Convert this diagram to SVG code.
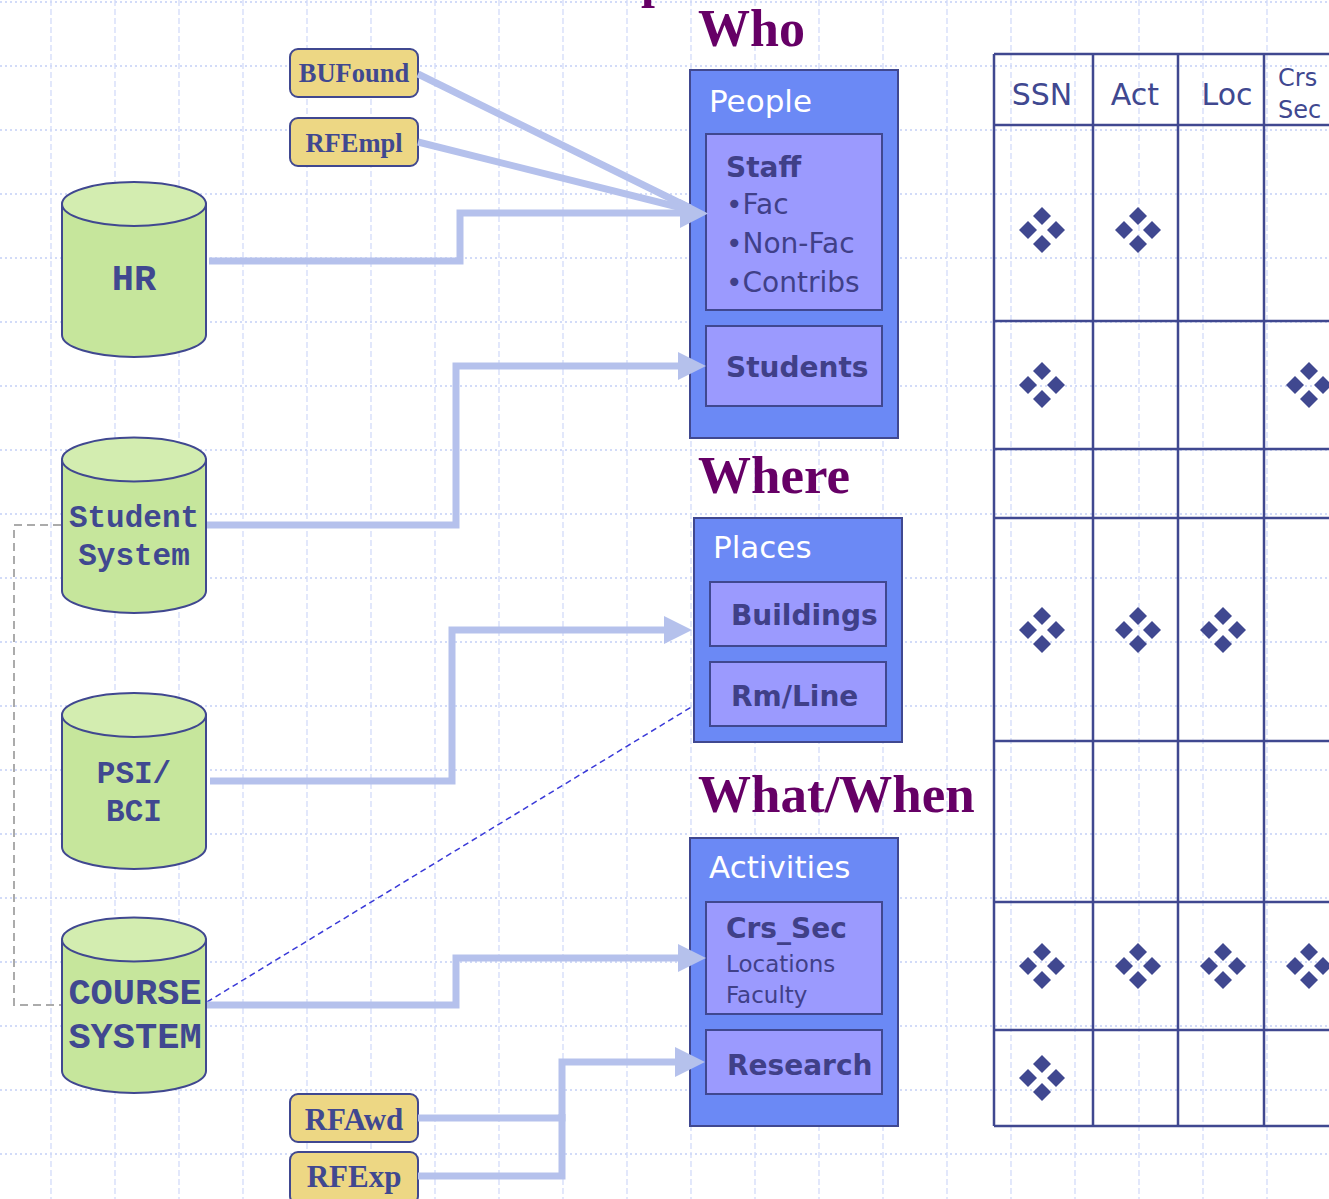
<svg xmlns="http://www.w3.org/2000/svg" xmlns:xlink="http://www.w3.org/1999/xlink" width="1329" height="1199" viewBox="0 0 1329 1199">
<style>
.gv{stroke:#d6def9;stroke-width:1.4;stroke-dasharray:6 3;fill:none}
.gh{stroke:#d2dbf8;stroke-width:2;stroke-dasharray:2 3;fill:none}
.tbl{stroke:#404890;stroke-width:2.5;fill:none}
.hdr{font-family:"DejaVu Sans",sans-serif;fill:#404890}
.cylb{fill:#c6e69c;stroke:#404890;stroke-width:2}
.cylt{fill:#d3edb0;stroke:#404890;stroke-width:2}
.ctx{font-family:"Liberation Mono","Courier New",monospace;font-weight:bold;fill:#404890;text-anchor:middle}
.ybox{fill:#edd784;stroke:#404890;stroke-width:2}
.ytx{font-family:"Liberation Serif","Times New Roman",serif;font-weight:bold;fill:#404890;text-anchor:middle}
.title{font-family:"Liberation Serif","Times New Roman",serif;font-weight:bold;fill:#660066}
.outer{fill:#6b89f5;stroke:#404890;stroke-width:2}
.inner{fill:#9b9afe;stroke:#404890;stroke-width:2}
.wtx{font-family:"DejaVu Sans",sans-serif;fill:#ffffff;font-size:31px}
.btx{font-family:"DejaVu Sans",sans-serif;fill:#404088;font-weight:bold;font-size:28px}
.ntx{font-family:"DejaVu Sans",sans-serif;fill:#404088}
.conn{stroke:#b5c1ec;stroke-width:7;fill:none}
.ah{fill:#b5c1ec}
</style>
<defs>
<g id="dia" fill="#404890">
<polygon points="0,-23 9,-14 0,-5 -9,-14"/>
<polygon points="0,5 9,14 0,23 -9,14"/>
<polygon points="-23,0 -14,-9 -5,0 -14,9"/>
<polygon points="5,0 14,-9 23,0 14,9"/>
</g>
</defs>
<rect x="0" y="0" width="1329" height="1199" fill="#ffffff"/>
<g id="bggrid">
<path class="gv" d="M51,0V1199M115,0V1199M179,0V1199M243,0V1199M307,0V1199M371,0V1199M435,0V1199M499,0V1199M563,0V1199M627,0V1199M691,0V1199M755,0V1199M819,0V1199M883,0V1199M947,0V1199M1011,0V1199M1075,0V1199M1139,0V1199M1203,0V1199M1267,0V1199"/>
<path class="gh" d="M0,2H1329M0,66H1329M0,130H1329M0,194H1329M0,258H1329M0,322H1329M0,386H1329M0,450H1329M0,514H1329M0,578H1329M0,642H1329M0,706H1329M0,770H1329M0,834H1329M0,898H1329M0,962H1329M0,1026H1329M0,1090H1329M0,1154H1329"/>
</g>
<g id="cutoff-title">
<text class="title" x="641" y="-3" font-size="50">p</text>
</g>
<g id="matrix">
<path class="tbl" d="M994,54V1126M1093,54V1126M1178,54V1126M1264,54V1126M994,54H1329M994,125H1329M994,321H1329M994,449H1329M994,518H1329M994,741H1329M994,902H1329M994,1030H1329M994,1126H1329"/>
<text class="hdr" x="1042" y="105" font-size="30" text-anchor="middle">SSN</text>
<text class="hdr" x="1135" y="105" font-size="30" text-anchor="middle">Act</text>
<text class="hdr" x="1227" y="105" font-size="30" text-anchor="middle">Loc</text>
<text class="hdr" x="1278" y="86" font-size="24">Crs</text>
<text class="hdr" x="1278" y="118" font-size="24">Sec</text>
<use xlink:href="#dia" x="1042" y="230"/>
<use xlink:href="#dia" x="1138" y="230"/>
<use xlink:href="#dia" x="1042" y="385"/>
<use xlink:href="#dia" x="1309" y="385"/>
<use xlink:href="#dia" x="1042" y="630"/>
<use xlink:href="#dia" x="1138" y="630"/>
<use xlink:href="#dia" x="1223" y="630"/>
<use xlink:href="#dia" x="1042" y="966"/>
<use xlink:href="#dia" x="1138" y="966"/>
<use xlink:href="#dia" x="1223" y="966"/>
<use xlink:href="#dia" x="1309" y="966"/>
<use xlink:href="#dia" x="1042" y="1078"/>
</g>
<g id="hr">
<path class="cylb" d="M62,204V335A72,22 0 0 0 206,335V204Z"/>
<ellipse class="cylt" cx="134" cy="204" rx="72" ry="22"/>
<text class="ctx" x="134" y="290" font-size="37">HR</text>
</g>
<g id="student-system">
<path class="cylb" d="M62,459.5V591A72,22 0 0 0 206,591V459.5Z"/>
<ellipse class="cylt" cx="134" cy="459.5" rx="72" ry="22"/>
<text class="ctx" x="134" y="527" font-size="31">Student</text>
<text class="ctx" x="134" y="565" font-size="31">System</text>
</g>
<g id="psi-bci">
<path class="cylb" d="M62,715V847A72,22 0 0 0 206,847V715Z"/>
<ellipse class="cylt" cx="134" cy="715" rx="72" ry="22"/>
<text class="ctx" x="134" y="783" font-size="31">PSI/</text>
<text class="ctx" x="134" y="821" font-size="31">BCI</text>
</g>
<g id="course-system">
<path class="cylb" d="M62,939.5V1071A72,22 0 0 0 206,1071V939.5Z"/>
<ellipse class="cylt" cx="134" cy="939.5" rx="72" ry="22"/>
<text class="ctx" x="135" y="1004" font-size="37">COURSE</text>
<text class="ctx" x="135" y="1048" font-size="37">SYSTEM</text>
</g>
<g id="bufound">
<rect class="ybox" x="290" y="49" width="128" height="48" rx="8"/>
<text class="ytx" x="354" y="82" font-size="26.5">BUFound</text>
</g>
<g id="rfempl">
<rect class="ybox" x="290" y="118" width="128" height="48" rx="8"/>
<text class="ytx" x="354" y="152" font-size="26.5">RFEmpl</text>
</g>
<g id="rfawd">
<rect class="ybox" x="290" y="1094" width="128" height="48" rx="8"/>
<text class="ytx" x="354" y="1130" font-size="31">RFAwd</text>
</g>
<g id="rfexp">
<rect class="ybox" x="290" y="1152" width="128" height="52" rx="8"/>
<text class="ytx" x="354" y="1187" font-size="31">RFExp</text>
</g>
<g id="who">
<text class="title" x="698" y="46" font-size="52">Who</text>
</g>
<g id="people">
<rect class="outer" x="690" y="70" width="208" height="368"/>
<text class="wtx" x="709" y="112">People</text>
<rect class="inner" x="706" y="134" width="176" height="176"/>
<text class="btx" x="726" y="177">Staff</text>
<text class="ntx" x="726" y="214" font-size="28">•Fac</text>
<text class="ntx" x="726" y="253" font-size="28">•Non-Fac</text>
<text class="ntx" x="726" y="292" font-size="28">•Contribs</text>
<rect class="inner" x="706" y="326" width="176" height="80"/>
<text class="btx" x="726" y="377">Students</text>
</g>
<g id="where">
<text class="title" x="698" y="493" font-size="53">Where</text>
</g>
<g id="places">
<rect class="outer" x="694" y="518" width="208" height="224"/>
<text class="wtx" x="713" y="558">Places</text>
<rect class="inner" x="710" y="582" width="176" height="64"/>
<text class="btx" x="731" y="625">Buildings</text>
<rect class="inner" x="710" y="662" width="176" height="64"/>
<text class="btx" x="731" y="706">Rm/Line</text>
</g>
<g id="whatwhen">
<text class="title" x="698" y="812" font-size="53">What/When</text>
</g>
<g id="activities">
<rect class="outer" x="690" y="838" width="208" height="288"/>
<text class="wtx" x="709" y="878">Activities</text>
<rect class="inner" x="706" y="902" width="176" height="112"/>
<text class="btx" x="726" y="938">Crs_Sec</text>
<text class="ntx" x="726" y="972" font-size="23">Locations</text>
<text class="ntx" x="726" y="1003" font-size="23">Faculty</text>
<rect class="inner" x="706" y="1030" width="176" height="64"/>
<text class="btx" x="727" y="1075">Research</text>
</g>
<g id="connectors">
<path d="M61,525H14V1005H61" fill="none" stroke="#ababab" stroke-width="2" stroke-dasharray="8 5"/>
<path d="M207,1002L693,706" fill="none" stroke="#3a3ad8" stroke-width="1.5" stroke-dasharray="6 4"/>
<path class="conn" d="M418,74L690,208"/>
<path class="conn" d="M418,142L690,210"/>
<path class="conn" d="M209,261H460V213H684"/>
<polygon class="ah" points="680,199 708,213.5 680,228"/>
<path class="conn" d="M207,525H456V366H680"/>
<polygon class="ah" points="678,352 706,366 678,380"/>
<path class="conn" d="M210,781H452V630H666"/>
<polygon class="ah" points="664,616 692,630 664,644"/>
<path class="conn" d="M207,1005H456V958H680"/>
<polygon class="ah" points="678,944 706,958 678,972"/>
<path class="conn" d="M418,1118H562V1062H678"/>
<path class="conn" d="M418,1176H562V1114"/>
<polygon class="ah" points="675,1047 705,1062 675,1077"/>
</g>
</svg>
